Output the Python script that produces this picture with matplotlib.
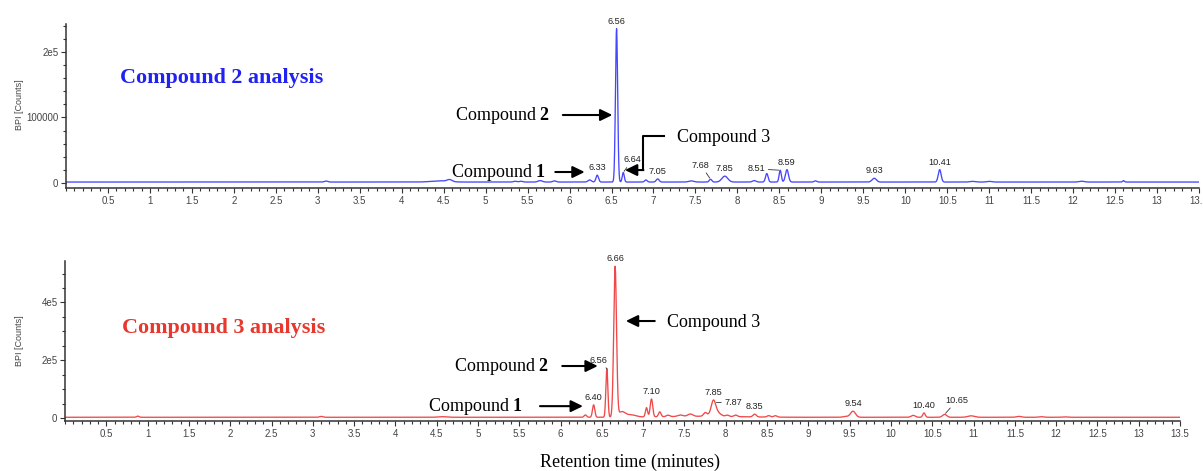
import numpy as np
import matplotlib.pyplot as plt
from matplotlib.ticker import MultipleLocator, FixedLocator, FixedFormatter

plt.rcParams["mathtext.fontset"] = "custom"
plt.rcParams["mathtext.rm"] = "Liberation Serif"
plt.rcParams["mathtext.bf"] = "Liberation Serif:bold"

# run 1 (compound 2) : peak retention time [min], height [counts], width [min]
rt_c2 = [3.10, 4.45, 4.57, 5.35, 5.42, 5.65, 5.82, 6.24, 6.33, 6.56, 6.64, 6.91,
         7.05, 7.45, 7.68, 7.85, 8.20, 8.35, 8.51, 8.59, 8.93, 9.63, 10.41,
         10.80, 11.00, 12.10, 12.60]
ht_c2 = [1500, 1800, 3000, 1200, 1200, 2200, 1800, 3200, 10500, 234000, 14500, 3200,
         4800, 1800, 4200, 9000, 2200, 13000, 18000, 19000, 1800, 5800, 19000,
         1000, 1000, 1300, 2200]
wd_c2 = [0.02, 0.10, 0.03, 0.02, 0.02, 0.025, 0.02, 0.02, 0.015, 0.013, 0.012, 0.015,
         0.017, 0.03, 0.015, 0.035, 0.02, 0.015, 0.013, 0.018, 0.015, 0.025, 0.017,
         0.03, 0.03, 0.03, 0.01]
base_c2 = 1500
lab_c2 = [6.33, 6.56, 6.64, 7.05, 7.68, 7.85, 8.51, 8.59, 9.63, 10.41]

# run 2 (compound 3)
rt_c3 = [0.88, 3.10, 4.57, 6.30, 6.40, 6.56, 6.66, 6.74, 6.85, 7.04, 7.10, 7.20,
         7.30, 7.45, 7.57, 7.70, 7.75, 7.85, 7.87, 8.02, 8.12, 8.35, 8.52, 8.60,
         9.45, 9.54, 10.27, 10.40, 10.65, 10.97, 11.55, 11.82, 12.10]
ht_c3 = [4000, 3000, 2000, 8000, 43000, 168000, 520000, 18000, 8000, 32000, 62000, 17000,
         5000, 5000, 8000, 3500, 12000, 38000, 20000, 4500, 5500, 9500, 5000, 5000,
         3000, 21000, 6500, 15000, 10000, 5000, 3000, 2000, 1500]
wd_c3 = [0.015, 0.02, 0.05, 0.015, 0.014, 0.012, 0.017, 0.04, 0.06, 0.013, 0.015, 0.015,
         0.02, 0.03, 0.03, 0.45, 0.02, 0.025, 0.05, 0.02, 0.02, 0.02, 0.02, 0.02,
         0.03, 0.03, 0.025, 0.015, 0.025, 0.04, 0.03, 0.03, 0.03]
base_c3 = 2500
lab_c3 = [6.40, 6.56, 6.66, 7.10, 7.85, 7.87, 8.35, 9.54, 10.40, 10.65]

xticks = np.arange(0.5, 13.51, 0.5)
xticklabels = ["%g" % v for v in xticks]


def bpi(t, rts, hts, wds, base):
    t = np.asarray(t, dtype=float)
    y = np.full_like(t, base)
    for r, h, w in zip(rts, hts, wds):
        y = y + h * np.exp(-0.5 * ((t - r) / w) ** 2)
    return y


def style_axes(ax, ylim, yt, ytl, yminor):
    ax.set_xlim(0, 13.5)
    ax.set_ylim(*ylim)
    for s in ["top", "right"]:
        ax.spines[s].set_visible(False)
    for s in ["left", "bottom"]:
        ax.spines[s].set_color("#333333")
        ax.spines[s].set_linewidth(1.1)
    ax.xaxis.set_major_locator(FixedLocator(xticks))
    ax.xaxis.set_major_formatter(FixedFormatter(xticklabels))
    ax.xaxis.set_minor_locator(MultipleLocator(0.1))
    ax.yaxis.set_major_locator(FixedLocator(yt))
    ax.yaxis.set_major_formatter(FixedFormatter(ytl))
    ax.yaxis.set_minor_locator(MultipleLocator(yminor))
    ax.tick_params(which="both", direction="out", color="#333333", width=0.8,
                   labelcolor="#444444", labelsize=7, pad=2)
    ax.tick_params(which="major", length=3.5)
    ax.tick_params(which="minor", length=2)
    for lbl in ax.get_xticklabels() + ax.get_yticklabels():
        lbl.set_family("Liberation Sans")
    ax.patch.set_alpha(0)


def peak_labels(ax, labels, f, offs, leaders):
    for rt in labels:
        dx, dy, ha, va = offs.get(rt, (0, 2, "center", "bottom"))
        ap = None
        if rt in leaders:
            ap = dict(arrowstyle="-", color="#333333", lw=0.6, shrinkA=0.5, shrinkB=1)
        ax.annotate("%.2f" % rt, xy=(rt, f(rt)), xytext=(dx, dy),
                    textcoords="offset points", ha=ha, va=va, fontsize=6.6,
                    family="Liberation Sans", color="#222222", arrowprops=ap)


def arrow(ax, tail, tip):
    ax.annotate("", xy=tip, xytext=tail,
                arrowprops=dict(arrowstyle="-|>,head_length=0.45,head_width=0.22",
                                mutation_scale=16, lw=1.5, color="black",
                                shrinkA=0, shrinkB=0))


t = np.linspace(0, 13.5, 8000)

fig = plt.figure(figsize=(12.03, 4.71), dpi=100)
W, H = 1203.0, 471.0

# --- compound 2 run
ax1 = fig.add_axes([66 / W, 1 - 188 / H, (1199 - 66) / W, (188 - 24) / H])
f2 = lambda x: bpi(x, rt_c2, ht_c2, wd_c2, base_c2)
ax1.plot(t, f2(t), color="#4646ff", lw=0.95)
style_axes(ax1, (-7600, 242700), [0, 100000, 200000], ["0", "100000", "2e5"], 20000)

offs2 = {6.64: (6.5, 6, "center", "bottom"),
         7.68: (-7, 7, "center", "bottom"),
         8.51: (-11, 1, "right", "center")}
peak_labels(ax1, lab_c2, f2, offs2, [6.64, 7.68, 8.51])

ax1.text(0.64, 160300, "Compound 2 analysis", color="#2222f0", fontsize=15.9,
         fontweight="bold", family="Liberation Serif", va="center")
ax1.text(5.76, 103800, r"Compound $\mathbf{2}$", fontsize=13, ha="right", va="center",
         family="Liberation Serif")
arrow(ax1, (5.92, 103800), (6.51, 103800))
ax1.text(5.71, 16800, r"Compound $\mathbf{1}$", fontsize=13, ha="right", va="center",
         family="Liberation Serif")
arrow(ax1, (5.83, 16800), (6.18, 16800))
ax1.text(7.28, 70200, "Compound 3", fontsize=13, ha="left", va="center",
         family="Liberation Serif")
ax1.plot([7.12, 6.88, 6.88], [71800, 71800, 19800], color="black", lw=1.5)
arrow(ax1, (6.88, 19800), (6.66, 19800))

# --- compound 3 run
ax2 = fig.add_axes([65.1 / W, 1 - 421 / H, (1180 - 65.1) / W, (421 - 261) / H])
f3 = lambda x: bpi(x, rt_c3, ht_c3, wd_c3, base_c3)
ax2.plot(t, f3(t), color="#f04848", lw=0.95)
style_axes(ax2, (-10400, 543300), [0, 200000, 400000], ["0", "2e5", "4e5"], 50000)

offs3 = {6.56: (-6, 3, "center", "bottom"),
         7.87: (7, 0, "left", "center"),
         10.65: (9, 7, "center", "bottom")}
peak_labels(ax2, lab_c3, f3, offs3, [6.56, 7.87, 10.65])

ax2.text(0.69, 311400, "Compound 3 analysis", color="#e8372c", fontsize=15.9,
         fontweight="bold", family="Liberation Serif", va="center")
ax2.text(5.86, 179900, r"Compound $\mathbf{2}$", fontsize=13, ha="right", va="center",
         family="Liberation Serif")
arrow(ax2, (6.02, 179900), (6.45, 179900))
ax2.text(5.54, 41000, r"Compound $\mathbf{1}$", fontsize=13, ha="right", va="center",
         family="Liberation Serif")
arrow(ax2, (5.75, 41000), (6.27, 41000))
ax2.text(7.29, 332200, "Compound 3", fontsize=13, ha="left", va="center",
         family="Liberation Serif")
arrow(ax2, (7.14, 335600), (6.79, 335600))

for yc in (105, 341):
    fig.text(19 / W, 1 - yc / H, "BPI [Counts]", rotation=90, ha="center", va="center",
             fontsize=6.5, color="#444444", family="Liberation Sans")
fig.text(630 / W, 1 - 462 / H, "Retention time (minutes)", ha="center", va="center",
         fontsize=13, family="Liberation Serif")

fig.savefig("out.png", dpi=100)
